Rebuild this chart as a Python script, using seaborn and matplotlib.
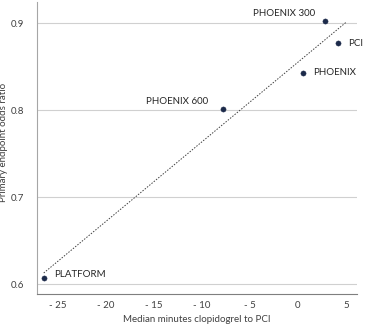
import numpy as np
import pandas as pd
import matplotlib
matplotlib.use("Agg")
import matplotlib.pyplot as plt
import seaborn as sns
from matplotlib.ticker import FuncFormatter

trials = ["PLATFORM", "PHOENIX 600", "PHOENIX", "PHOENIX 300", "PCI"]
minutes = [-26.5, -7.8, 0.5, 2.8, 4.2]
odds_ratio = [0.607, 0.801, 0.843, 0.903, 0.877]
x_ticks = [-25, -20, -15, -10, -5, 0, 5]
y_ticks = [0.6, 0.7, 0.8, 0.9]

sns.set_theme(style="white")
plt.rcParams['font.family'] = ['Lato', 'DejaVu Sans']

df = pd.DataFrame({"trial": trials, "minutes": minutes, "or": odds_ratio})

fig = plt.figure(figsize=(3.65, 3.26), dpi=100)
ax = fig.add_axes([37/365, 1-294/326, (357-37)/365, (294-2)/326])

# trend line (least squares fit of the data)
slope, intercept = np.polyfit(df["minutes"], df["or"], 1)
xs = np.array([min(minutes), x_ticks[-1]])
fit = pd.DataFrame({"x": xs, "y": slope*xs + intercept})
sns.lineplot(data=fit, x="x", y="y", ax=ax, color="#404040", lw=0.7,
             linestyle=(0, (1.5, 1.5)), zorder=2)

sns.scatterplot(data=df, x="minutes", y="or", ax=ax, color="#1c2a4a",
                s=14, edgecolor="#1c2a4a", linewidth=0.3, zorder=3)

offsets = {
    "PLATFORM": ((10, 3), "left"),
    "PHOENIX 600": ((-15, 8), "right"),
    "PHOENIX": ((10, 0), "left"),
    "PHOENIX 300": ((-41, 7), "center"),
    "PCI": ((10, 0), "left"),
}
for t, xv, yv in zip(trials, minutes, odds_ratio):
    off, ha = offsets[t]
    ax.annotate(t, (xv, yv), xytext=off, textcoords="offset pixels",
                ha=ha, va="center", fontsize=7, color="#262626")

ax.set_xlim(-27.2, 6.15)
ax.set_ylim(0.5885, 0.9245)
ax.set_xticks(x_ticks)
ax.set_yticks(y_ticks)
ax.xaxis.set_major_formatter(FuncFormatter(lambda v, p: f"- {abs(int(v))}" if v < 0 else f"{int(v)}"))
ax.yaxis.set_major_formatter(FuncFormatter(lambda v, p: f"{v:.1f}"))
ax.tick_params(axis="both", length=0, labelsize=7, labelcolor="#404040")
ax.tick_params(axis="x", pad=5)
ax.tick_params(axis="y", pad=9)
ax.grid(axis="y", color="#d0d0d0", lw=0.8)
ax.grid(axis="x", visible=False)
ax.set_axisbelow(True)
for s in ["top", "right"]:
    ax.spines[s].set_visible(False)
ax.spines["left"].set_color("#a6a6a6")
ax.spines["bottom"].set_color("#7f7f7f")
ax.spines["left"].set_linewidth(0.8)
ax.spines["bottom"].set_linewidth(0.8)

ax.set_xlabel("Median minutes clopidogrel to PCI", fontsize=7, color="#404040", labelpad=4)
ax.set_ylabel("Primary endpoint odds ratio", fontsize=7, color="#404040")
ax.yaxis.set_label_coords(-0.09, 0.52)

fig.savefig("out.png", dpi=100)
